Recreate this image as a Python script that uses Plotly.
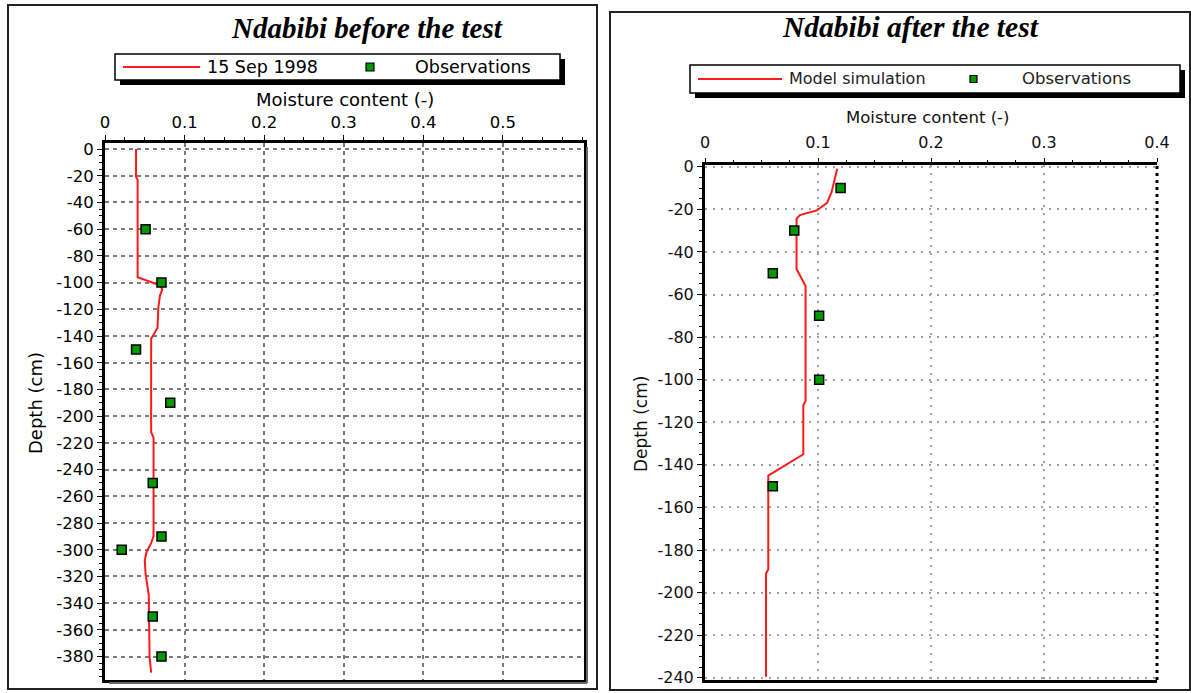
import plotly.graph_objects as go

# ---------------- data ----------------
# Left panel: Ndabibi before the test
before_line_theta = [0.039, 0.039, 0.041, 0.041, 0.069, 0.072, 0.069, 0.067, 0.066, 0.058,
                     0.058, 0.061, 0.061, 0.058, 0.052, 0.050, 0.051, 0.055, 0.056, 0.058]
before_line_depth = [0, -21, -23, -96, -102, -105, -110, -119, -134, -142,
                     -212, -216, -290, -295, -302, -308, -318, -334, -380, -392]
before_obs_theta = [0.051, 0.071, 0.039, 0.082, 0.060, 0.071, 0.021, 0.060, 0.071]
before_obs_depth = [-60, -100, -150, -190, -250, -290, -300, -350, -380]

# Right panel: Ndabibi after the test
after_line_theta = [0.117, 0.112, 0.108, 0.099, 0.084, 0.081, 0.081, 0.084, 0.089, 0.089,
                    0.087, 0.087, 0.056, 0.056, 0.054, 0.054]
after_line_depth = [-1, -12, -17, -20.5, -22.7, -24.5, -48, -51, -56, -110,
                    -112, -135, -145, -189, -191, -239.5]
after_obs_theta = [0.120, 0.079, 0.060, 0.101, 0.101, 0.060]
after_obs_depth = [-10, -30, -50, -70, -100, -150]

left_xticks = [0, 0.1, 0.2, 0.3, 0.4, 0.5]
left_xlabels = ["0", "0.1", "0.2", "0.3", "0.4", "0.5"]
left_yticks = list(range(0, -381, -20))
left_ylabels = [str(v) for v in left_yticks]
right_xticks = [0, 0.1, 0.2, 0.3, 0.4]
right_xlabels = ["0", "0.1", "0.2", "0.3", "0.4"]
right_yticks = list(range(0, -241, -20))
right_ylabels = [str(v) for v in right_yticks]

left_title = "Ndabibi before the test"
right_title = "Ndabibi after the test"
left_line_name = "15 Sep 1998"
right_line_name = "Model simulation"
obs_name = "Observations"
x_title = "Moisture content (-)"
y_title = "Depth (cm)"

# ---------------- layout helpers ----------------
W, H = 1191, 693
def X(px):
    return px / W
def Y(py):
    return 1 - py / H

RED = "#ff1a1a"
GREEN = "#009a00"
SANS = "DejaVu Sans"

fig = go.Figure()

fig.add_trace(go.Scatter(x=before_line_theta, y=before_line_depth, mode="lines",
                         line=dict(color=RED, width=2), name=left_line_name,
                         xaxis="x", yaxis="y", showlegend=False))
fig.add_trace(go.Scatter(x=before_obs_theta, y=before_obs_depth, mode="markers",
                         marker=dict(symbol="square", size=9, color=GREEN,
                                     line=dict(color="black", width=1.5)),
                         name=obs_name, xaxis="x", yaxis="y", showlegend=False))
fig.add_trace(go.Scatter(x=after_line_theta, y=after_line_depth, mode="lines",
                         line=dict(color=RED, width=2), name=right_line_name,
                         xaxis="x2", yaxis="y2", showlegend=False))
fig.add_trace(go.Scatter(x=after_obs_theta, y=after_obs_depth, mode="markers",
                         marker=dict(symbol="square", size=9, color=GREEN,
                                     line=dict(color="black", width=1.5)),
                         name=obs_name, xaxis="x2", yaxis="y2", showlegend=False))

tickfont_l = dict(family=SANS, size=16.5, color="black")
tickfont_r = dict(family=SANS, size=16, color="#111")

fig.update_layout(
    width=W, height=H, autosize=False,
    margin=dict(l=0, r=0, t=0, b=0, pad=0, autoexpand=False),
    paper_bgcolor="white", plot_bgcolor="rgba(0,0,0,0)",
    xaxis=dict(domain=[X(105), X(584)], range=[0, 0.602], side="top", automargin=False,
               tickvals=left_xticks, ticktext=left_xlabels, tickfont=tickfont_l,
               showgrid=True, gridcolor="#7a7a7a", gridwidth=1.5, griddash="4px,4px",
               showline=True, linecolor="black", linewidth=3, mirror=True,
               ticks="outside", ticklen=5, tickcolor="black", tickwidth=1,
               minor=dict(dtick=0.025, ticks="outside", ticklen=3, tickcolor="black", showgrid=False),
               zeroline=False, anchor="y", fixedrange=True),
    yaxis=dict(domain=[Y(680), Y(143)], range=[-397.5, 4.5], automargin=False,
               tickvals=left_yticks, ticktext=left_ylabels, tickfont=tickfont_l,
               showgrid=True, gridcolor="#7a7a7a", gridwidth=1.5, griddash="4px,4px",
               showline=True, linecolor="black", linewidth=3, mirror=True,
               ticks="outside", ticklen=5, tickcolor="black", tickwidth=1,
               minor=dict(dtick=5, ticks="outside", ticklen=3, tickcolor="black", showgrid=False),
               zeroline=False, anchor="x", fixedrange=True),
    xaxis2=dict(domain=[X(705), X(1157)], range=[0, 0.4], side="top", automargin=False,
                tickvals=right_xticks, ticktext=right_xlabels, tickfont=tickfont_r,
                ticklabelstandoff=4,
                showgrid=True, gridcolor="#a0a0a0", gridwidth=1.5, griddash="2px,6px",
                showline=True, linecolor="black", linewidth=3, mirror=True,
                ticks="outside", ticklen=4, tickcolor="black", tickwidth=1,
                minor=dict(dtick=0.025, ticks="outside", ticklen=2, tickcolor="black", showgrid=False),
                zeroline=False, anchor="y2", fixedrange=True),
    yaxis2=dict(domain=[Y(680), Y(165)], range=[-241, 0.8], automargin=False,
                tickvals=right_yticks, ticktext=right_ylabels, tickfont=tickfont_r,
                showgrid=True, gridcolor="#a0a0a0", gridwidth=1.5, griddash="2px,6px",
                showline=True, linecolor="black", linewidth=3, mirror=False,
                ticks="outside", ticklen=5, tickcolor="black", tickwidth=1,
                minor=dict(dtick=5, ticks="outside", ticklen=3, tickcolor="black", showgrid=False),
                zeroline=False, anchor="x2", fixedrange=True),
)

shapes = []
# outer panel borders
shapes.append(dict(type="rect", xref="paper", yref="paper", x0=X(8), x1=X(597), y0=Y(689), y1=Y(5),
                   line=dict(color="#222", width=2), fillcolor="rgba(0,0,0,0)"))
shapes.append(dict(type="rect", xref="paper", yref="paper", x0=X(610), x1=X(1190), y0=Y(690), y1=Y(12),
                   line=dict(color="#222", width=2), fillcolor="rgba(0,0,0,0)"))
# left plot frame shadow
shapes.append(dict(type="line", xref="paper", yref="paper", x0=X(587), x1=X(587), y0=Y(683), y1=Y(147),
                   line=dict(color="#666", width=2)))
shapes.append(dict(type="line", xref="paper", yref="paper", x0=X(109), x1=X(587), y0=Y(683), y1=Y(683),
                   line=dict(color="#666", width=2)))
# right plot dotted right border
shapes.append(dict(type="line", xref="x2 domain", yref="y2 domain", x0=1, x1=1, y0=0, y1=1,
                   line=dict(color="black", width=3, dash="3px,4px")))

# legends (drop shadow + box)
def legend_box(x0, x1, y0, y1):
    shapes.append(dict(type="rect", xref="paper", yref="paper", x0=X(x0 + 5), x1=X(x1 + 5),
                       y0=Y(y1 + 5), y1=Y(y0 + 5), line=dict(width=0), fillcolor="black"))
    shapes.append(dict(type="rect", xref="paper", yref="paper", x0=X(x0), x1=X(x1),
                       y0=Y(y1), y1=Y(y0), line=dict(color="black", width=1.5), fillcolor="white"))

legend_box(115, 560, 54, 80)
legend_box(690, 1180, 65, 93)
# legend samples
shapes.append(dict(type="line", xref="paper", yref="paper", x0=X(123), x1=X(200), y0=Y(67), y1=Y(67),
                   line=dict(color=RED, width=2)))
shapes.append(dict(type="rect", xref="paper", yref="paper", x0=X(366), x1=X(374), y0=Y(71), y1=Y(63),
                   line=dict(color="black", width=1.2), fillcolor=GREEN))
shapes.append(dict(type="line", xref="paper", yref="paper", x0=X(698), x1=X(782), y0=Y(79), y1=Y(79),
                   line=dict(color=RED, width=2)))
shapes.append(dict(type="rect", xref="paper", yref="paper", x0=X(970), x1=X(977), y0=Y(82.5), y1=Y(75.5),
                   line=dict(color="black", width=1.2), fillcolor=GREEN))

fig.update_layout(shapes=shapes)

ann = []
def text(s, x, y, size, xanchor="center", family=SANS, color="black", angle=0):
    ann.append(dict(text=s, x=X(x), y=Y(y), xref="paper", yref="paper", showarrow=False,
                    xanchor=xanchor, yanchor="middle", textangle=angle,
                    font=dict(family=family, size=size, color=color)))

text("<b><i>" + left_title + "</i></b>", 367, 28, 29, family="Liberation Serif")
text("<b><i>" + right_title + "</i></b>", 910, 27, 29.5, family="Liberation Serif")
text(left_line_name, 205, 67, 17.5, xanchor="left")
text(obs_name, 413, 67, 17.5, xanchor="left")
text(right_line_name, 787, 79, 16, xanchor="left", color="#222")
text(obs_name, 1020, 79, 16.5, xanchor="left", color="#222")
text(x_title, 345, 100, 18)
text(x_title, 928, 118, 16.5, color="#111")
text(y_title, 35, 403, 18, angle=-90)
text(y_title, 641, 424, 17, angle=-90, color="#111")

fig.update_layout(annotations=ann)

fig.write_html("out.html", config={"displayModeBar": False, "responsive": False})

# remove default page margins so the figure sits at the window origin
with open("out.html", "r", encoding="utf-8") as f:
    html = f.read()
html = html.replace("<head>", "<head><style>html,body{margin:0;padding:0;overflow:hidden;}</style>", 1)
with open("out.html", "w", encoding="utf-8") as f:
    f.write(html)
